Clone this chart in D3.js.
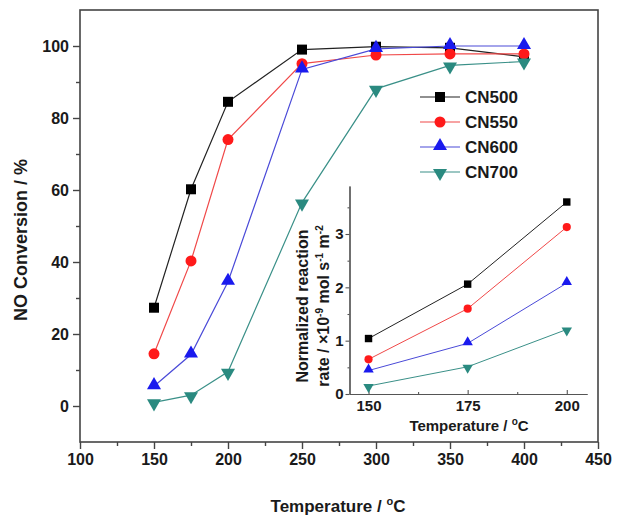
<!DOCTYPE html>
<html>
<head>
<meta charset="utf-8">
<script src="https://cdn.jsdelivr.net/npm/d3@7"></script>
<style>
  body { margin: 0; background: #fff; }
  text { font-family: "Liberation Sans", Arial, sans-serif; fill: #1a1a1a; }
</style>
</head>
<body>
<script>
// main chart data
var temps = [150, 175, 200, 250, 300, 350, 400];
var cn500 = [27.3, 60.2, 84.5, 99.0, 99.8, 99.5, 97.0];
var cn550 = [14.5, 40.3, 74.0, 95.1, 97.5, 97.8, 97.8];
var cn600 = [5.5, 14.3, 34.5, 93.5, 99.2, 100, 100];
var cn700 = [1.0, 3.0, 9.5, 56.5, 88.1, 94.6, 95.7];

// inset data
var insetTemps = [150, 175, 200];
var rate500 = [1.04, 2.06, 3.60];
var rate550 = [0.65, 1.60, 3.13];
var rate600 = [0.44, 0.95, 2.08];
var rate700 = [0.15, 0.51, 1.21];

var names = ["CN500", "CN550", "CN600", "CN700"];
var colors = ["#000000", "#ff1a1a", "#1a1aee", "#2a8a80"];
var lineColors = ["#222222", "#f04848", "#4a4ad8", "#3a9088"];
var shapes = ["square", "circle", "up", "down"];

var xTicks = [100, 150, 200, 250, 300, 350, 400, 450];
var yTicks = [0, 20, 40, 60, 80, 100];
var insetXTicks = [150, 175, 200];
var insetYTicks = [0, 1, 2, 3];

var W = 621, H = 517;
var svg = d3.select("body").append("svg").attr("width", W).attr("height", H);
svg.append("rect").attr("width", W).attr("height", H).attr("fill", "#fff");

var x = d3.scaleLinear().domain([100, 450]).range([80, 598]);
var y = d3.scaleLinear().domain([-10, 110]).range([442, 10]);

function marker(shape, size) {
	if (shape == "square") return d3.symbol().type(d3.symbolSquare).size(size)();
	if (shape == "circle") return d3.symbol().type(d3.symbolCircle).size(size * 0.95)();
	return d3.symbol().type(d3.symbolTriangle).size(size * 0.85)();
}
function markerTransform(shape, px, py) {
	if (shape == "down") return "translate(" + px + "," + (py + 1) + ") rotate(180)";
	if (shape == "up") return "translate(" + px + "," + (py - 1) + ")";
	return "translate(" + px + "," + py + ")";
}

// frame
svg.append("rect").attr("x", 80).attr("y", 10).attr("width", 518).attr("height", 432)
	.attr("fill", "none").attr("stroke", "#444").attr("stroke-width", 1.6);

// main axes
var gx = svg.append("g").attr("transform", "translate(0,442)")
	.call(d3.axisBottom(x).tickValues(xTicks).tickSize(7).tickPadding(5));
var gxm = svg.append("g").attr("transform", "translate(0,442)")
	.call(d3.axisBottom(x).tickValues(d3.range(125, 450, 50)).tickSize(4).tickFormat(""));
var gy = svg.append("g").attr("transform", "translate(80,0)")
	.call(d3.axisLeft(y).tickValues(yTicks).tickSize(7).tickPadding(4));
var gym = svg.append("g").attr("transform", "translate(80,0)")
	.call(d3.axisLeft(y).tickValues(d3.range(10, 100, 20)).tickSize(4).tickFormat(""));
[gx, gxm, gy, gym].forEach(function(g) {
	g.select(".domain").remove();
	g.selectAll("line").attr("stroke", "#444").attr("stroke-width", 1.4);
	g.selectAll("text").attr("font-size", 16).attr("font-weight", "bold").attr("fill", "#1a1a1a");
});

// main series
var allMain = [cn500, cn550, cn600, cn700];
var line = d3.line().x(function(d) { return x(d[0]); }).y(function(d) { return y(d[1]); });
allMain.forEach(function(vals, i) {
	var pts = temps.map(function(t, j) { return [t, vals[j]]; });
	svg.append("path").datum(pts).attr("d", line)
		.attr("fill", "none").attr("stroke", lineColors[i]).attr("stroke-width", 1.2);
	svg.selectAll(".m" + i).data(pts).enter().append("path")
		.attr("d", marker(shapes[i], 100))
		.attr("transform", function(d) { return markerTransform(shapes[i], x(d[0]), y(d[1])); })
		.attr("fill", colors[i]);
});

// legend
names.forEach(function(n, i) {
	var ly = 97 + i * 25;
	svg.append("line").attr("x1", 420).attr("x2", 460).attr("y1", ly).attr("y2", ly)
		.attr("stroke", lineColors[i]).attr("stroke-width", 1.2);
	svg.append("path").attr("d", marker(shapes[i], 100))
		.attr("transform", markerTransform(shapes[i], 440, ly)).attr("fill", colors[i]);
	svg.append("text").attr("x", 465).attr("y", ly + 6).attr("font-size", 17)
		.attr("font-weight", "bold").text(n);
});

// axis titles
svg.append("text").attr("x", 338).attr("y", 512).attr("text-anchor", "middle")
	.attr("font-size", 17).attr("font-weight", "bold")
	.html('Temperature / <tspan font-size="11" dy="-7">o</tspan><tspan dy="7">C</tspan>');
svg.append("text").attr("transform", "translate(27,240) rotate(-90)")
	.attr("text-anchor", "middle").attr("font-size", 18).attr("font-weight", "bold")
	.text("NO Conversion / %");

// inset
var ix = d3.scaleLinear().domain([145.2, 205.1]).range([349.5, 587]);
var iy = d3.scaleLinear().domain([0, 3.9]).range([394, 186]);

var igx = svg.append("g").attr("transform", "translate(0,394)")
	.call(d3.axisBottom(ix).tickValues(insetXTicks).tickSizeInner(-4).tickSizeOuter(0).tickPadding(6));
var igxm = svg.append("g").attr("transform", "translate(0,394)")
	.call(d3.axisBottom(ix).tickValues([162.5, 187.5]).tickSizeInner(-2).tickSizeOuter(0).tickFormat(""));
var igy = svg.append("g").attr("transform", "translate(349.5,0)")
	.call(d3.axisLeft(iy).tickValues(insetYTicks).tickFormat(d3.format("d"))
		.tickSizeInner(4).tickSizeOuter(0).tickPadding(2));
var igym = svg.append("g").attr("transform", "translate(349.5,0)")
	.call(d3.axisLeft(iy).tickValues([0.5, 1.5, 2.5, 3.5]).tickSizeInner(2).tickSizeOuter(0).tickFormat(""));
[igx, igxm, igy, igym].forEach(function(g) {
	g.select(".domain").attr("stroke", "#555").attr("stroke-width", 1.2);
	g.selectAll("line").attr("stroke", "#555").attr("stroke-width", 1.1);
	g.selectAll("text").attr("font-size", 15).attr("font-weight", "bold").attr("fill", "#1a1a1a");
});

var allInset = [rate500, rate550, rate600, rate700];
var iline = d3.line().x(function(d) { return ix(d[0]); }).y(function(d) { return iy(d[1]); });
allInset.forEach(function(vals, i) {
	var pts = insetTemps.map(function(t, j) { return [t, vals[j]]; });
	svg.append("path").datum(pts).attr("d", iline)
		.attr("fill", "none").attr("stroke", lineColors[i]).attr("stroke-width", 1);
	svg.selectAll(".im" + i).data(pts).enter().append("path")
		.attr("d", marker(shapes[i], 55))
		.attr("transform", function(d) { return markerTransform(shapes[i], ix(d[0]), iy(d[1])); })
		.attr("fill", colors[i]);
});

svg.append("text").attr("x", 469).attr("y", 431).attr("text-anchor", "middle")
	.attr("font-size", 15).attr("font-weight", "bold")
	.html('Temperature / <tspan font-size="10" dy="-6">o</tspan><tspan dy="6">C</tspan>');
svg.append("text").attr("transform", "translate(308,306) rotate(-90)")
	.attr("text-anchor", "middle").attr("font-size", 16).attr("font-weight", "bold")
	.text("Normalized reaction");
svg.append("text").attr("transform", "translate(329,306) rotate(-90)")
	.attr("text-anchor", "middle").attr("font-size", 16).attr("font-weight", "bold")
	.html('rate / ×10<tspan font-size="10" dy="-6">-9</tspan><tspan dy="6"> mol s</tspan><tspan font-size="10" dy="-6">-1</tspan><tspan dy="6"> m</tspan><tspan font-size="10" dy="-6">-2</tspan>');
</script>
</body>
</html>
